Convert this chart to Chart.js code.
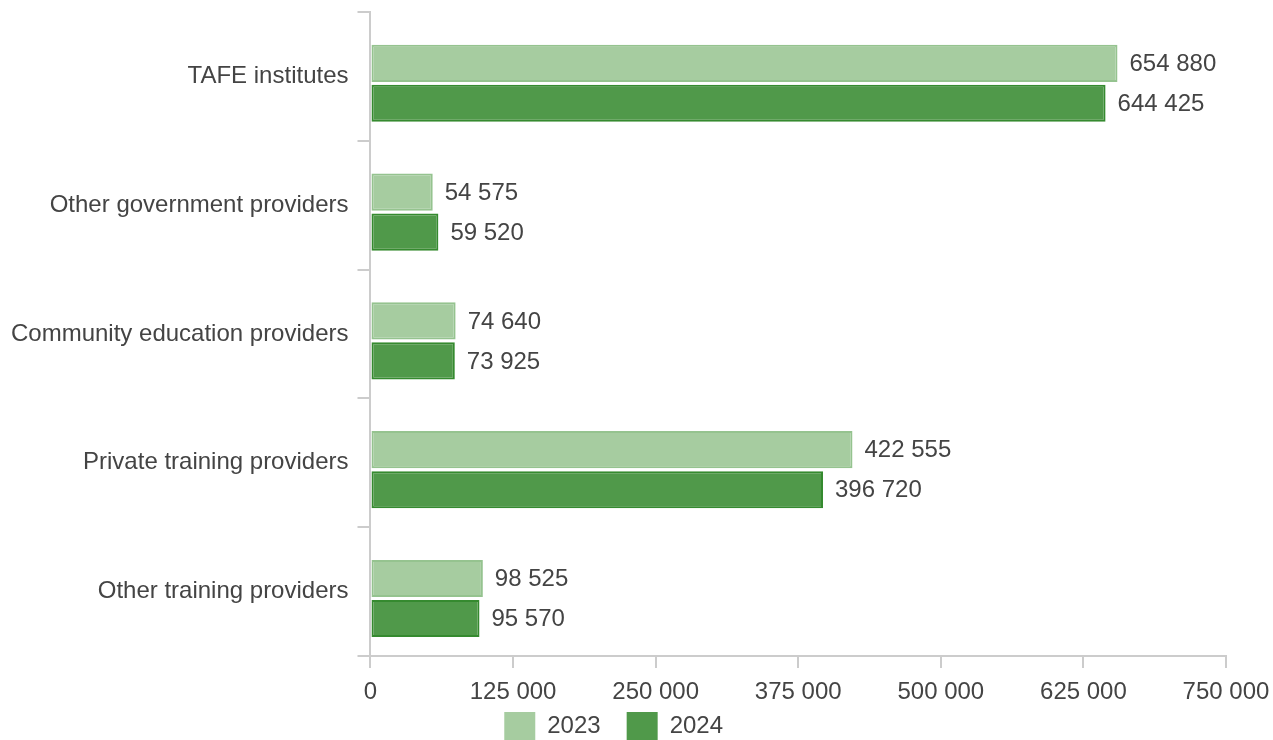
<!DOCTYPE html>
<html>
<head>
<meta charset="utf-8">
<script src="https://cdn.jsdelivr.net/npm/chart.js@4/dist/chart.umd.min.js"></script>
<style>
  html, body { margin: 0; padding: 0; background: #fff; }
  #wrap { width: 1273px; height: 740px; }
</style>
</head>
<body>
<div id="wrap"><canvas id="chart"></canvas></div>
<script>
// -------------------------------
// Data
// -------------------------------
const categories = [
  "TAFE institutes",
  "Other government providers",
  "Community education providers",
  "Private training providers",
  "Other training providers"
];
const seriesNames = ["2023", "2024"];
const values2023 = [654880, 54575, 74640, 422555, 98525];
const values2024 = [644425, 59520, 73925, 396720, 95570];
const xTicks = [0, 125000, 250000, 375000, 500000, 625000, 750000];

const textColor = "#444444";
const axisColor = "#cccccc";
const fontFamily = "'Liberation Sans', Arial, sans-serif";
const fontSize = 24;

// "654 880" style
function fmt(v) {
  return String(v).replace(/\B(?=(\d{3})+(?!\d))/g, " ");
}

// -------------------------------
// Value labels at the end of each bar
// -------------------------------
const valueLabels = {
  id: "valueLabels",
  afterDatasetsDraw(chart) {
    const ctx = chart.ctx;
    ctx.save();
    ctx.font = fontSize + "px " + fontFamily;
    ctx.fillStyle = textColor;
    ctx.textAlign = "left";
    ctx.textBaseline = "middle";
    chart.data.datasets.forEach((ds, i) => {
      const meta = chart.getDatasetMeta(i);
      meta.data.forEach((bar, j) => {
        ctx.fillText(fmt(ds.data[j]), bar.x + 12, bar.y + 1);
      });
    });
    ctx.restore();
  }
};

// trailing spaces only widen the legend items (gap between them, and shift left)
const legendPad = ["   ", "       "];

new Chart(document.getElementById("chart"), {
  type: "bar",
  data: {
    labels: categories,
    datasets: [
      {
        label: seriesNames[0],
        data: values2023,
        backgroundColor: "#a6cca0",
        borderColor: "#95c38f",
        borderWidth: 2,
        borderSkipped: false,
        // bars sit a little below the category centre, like the original
        categoryPercentage: 0.407,
        barPercentage: 1.42
      },
      {
        label: seriesNames[1],
        data: values2024,
        backgroundColor: "#50994a",
        borderColor: "#358a2f",
        borderWidth: 2,
        borderSkipped: false,
        categoryPercentage: 0.835,
        barPercentage: 0.69
      }
    ]
  },
  options: {
    indexAxis: "y",
    responsive: true,
    maintainAspectRatio: false,
    animation: false,
    layout: { padding: { top: 12, right: 1, left: 2, bottom: -10 } },
    scales: {
      x: {
        min: 0,
        max: 750000,
        afterBuildTicks(scale) {
          scale.ticks = xTicks.map(v => ({ value: v }));
        },
        afterFit(scale) {
          scale.height = 50;
          scale.paddingRight = 47;
        },
        ticks: {
          callback: v => fmt(v),
          color: textColor,
          font: { size: fontSize, family: fontFamily },
          padding: 10,
          maxRotation: 0
        },
        grid: { drawOnChartArea: false, tickLength: 12, color: axisColor, lineWidth: 2 },
        border: { color: axisColor, width: 2 }
      },
      y: {
        // category labels sit mid-band, so no extra room above/below is needed
        afterFit(scale) {
          scale.paddingTop = 0;
          scale.paddingBottom = 0;
        },
        ticks: {
          color: textColor,
          font: { size: fontSize, family: fontFamily },
          padding: 9
        },
        grid: { offset: true, drawOnChartArea: false, tickLength: 13, color: axisColor, lineWidth: 2 },
        border: { color: axisColor, width: 2 }
      }
    },
    plugins: {
      legend: {
        position: "bottom",
        labels: {
          boxWidth: 31,
          boxHeight: 28,
          padding: 6,
          color: textColor,
          font: { size: fontSize, family: fontFamily },
          generateLabels(chart) {
            return chart.data.datasets.map((ds, i) => ({
              text: ds.label + legendPad[i],
              fillStyle: ds.backgroundColor,
              strokeStyle: ds.backgroundColor,
              lineWidth: 0,
              fontColor: textColor,
              hidden: !chart.isDatasetVisible(i),
              datasetIndex: i
            }));
          }
        }
      },
      tooltip: { enabled: false }
    }
  },
  plugins: [valueLabels]
});
</script>
</body>
</html>
